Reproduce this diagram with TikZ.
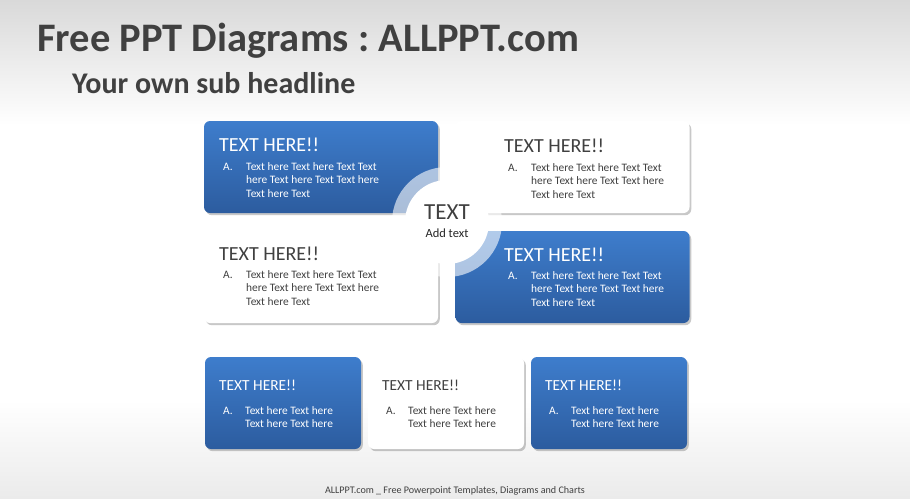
\documentclass[tikz,border=0pt]{standalone}
\usepackage{fontspec}
\setmainfont{Carlito}
\usetikzlibrary{shadows}
\definecolor{btop}{HTML}{3E7DCC}
\definecolor{bbot}{HTML}{2C5C9F}
\definecolor{dark}{HTML}{404040}
\definecolor{bgtop}{HTML}{D9D9D9}
\definecolor{bgbot}{HTML}{EBEBEB}
\frenchspacing
\tikzset{
  boxshadow/.style={drop shadow={shadow xshift=1.8pt, shadow yshift=-2.2pt, opacity=0.3, fill=black!70}},
  bluebox/.style={rectangle, rounded corners=6pt, top color=btop, bottom color=bbot, draw=none, boxshadow},
  whitebox/.style={rectangle, rounded corners=6pt, fill=white, draw=none, boxshadow},
  bigsz/.style={minimum width=234pt, minimum height=92pt, inner sep=0pt},
  smallsz/.style={minimum width=156pt, minimum height=92pt, inner sep=0pt},
  bigtitle/.style={anchor=base west, inner sep=0pt, font=\fontsize{20}{22}\selectfont},
  smalltitle/.style={anchor=base west, inner sep=0pt, font=\fontsize{15.4}{17}\selectfont},
  body/.style={anchor=base west, inner sep=0pt, font=\fontsize{11.4}{13.6}\selectfont},
}
\begin{document}
\begin{tikzpicture}[x=1pt,y=-1pt]
\useasboundingbox (0,0) rectangle (910,498);
% background
\fill[white] (0,0) rectangle (910,498);
\shade[top color=bgtop, bottom color=white] (0,0) rectangle (910,125);
\shade[top color=white, bottom color=bgbot] (0,400) rectangle (910,498);

% headings
\node[anchor=base west, inner sep=0pt, text=dark, font=\fontsize{40.5}{44}\selectfont\bfseries] (title) at (37,51.5) {Free PPT Diagrams : ALLPPT.com};
\node[anchor=base west, inner sep=0pt, text=dark, font=\fontsize{30}{32}\selectfont\bfseries] (sub) at (72,93) {Your own sub headline};

% four big boxes
\node[bluebox, bigsz] (b1) at (321,167) {};
\node[whitebox, bigsz] (b2) at (572.5,167) {};
\node[whitebox, bigsz] (b3) at (321,277) {};
\node[bluebox, bigsz] (b4) at (572.5,277) {};

% center ring and circle
\fill[white, opacity=0.6] (447,222) circle (55);
\fill[white] (447,222) circle (42);
\node[anchor=base, inner sep=0pt, text=dark, font=\fontsize{23}{25}\selectfont] (ct) at (447,219.5) {TEXT};
\node[anchor=base, inner sep=0pt, text=black!85, font=\fontsize{12.5}{14}\selectfont] (ca) at (447,237) {Add text};

% box 1 text
\node[bigtitle, text=white] (t1) at (219,151) {TEXT HERE!!};
\node[body, text=white] (a1) at (223,170) {A.};
\node[body, text=white] (l1) at (246,170) {\begin{tabular}[t]{@{}l@{}}Text here Text here Text Text\\ here Text here Text Text here\\ Text here Text\end{tabular}};
% box 2 text
\node[bigtitle, text=dark] (t2) at (504,152) {TEXT HERE!!};
\node[body, text=dark] (a2) at (508,171) {A.};
\node[body, text=dark] (l2) at (531,171) {\begin{tabular}[t]{@{}l@{}}Text here Text here Text Text\\ here Text here Text Text here\\ Text here Text\end{tabular}};
% box 3 text
\node[bigtitle, text=dark] (t3) at (219,260) {TEXT HERE!!};
\node[body, text=dark] (a3) at (223,278) {A.};
\node[body, text=dark] (l3) at (246,278) {\begin{tabular}[t]{@{}l@{}}Text here Text here Text Text\\ here Text here Text Text here\\ Text here Text\end{tabular}};
% box 4 text
\node[bigtitle, text=white] (t4) at (504,261) {TEXT HERE!!};
\node[body, text=white] (a4) at (508,279) {A.};
\node[body, text=white] (l4) at (531,279) {\begin{tabular}[t]{@{}l@{}}Text here Text here Text Text\\ here Text here Text Text here\\ Text here Text\end{tabular}};

% bottom boxes
\node[bluebox, smallsz] (s1) at (283,403) {};
\node[whitebox, smallsz] (s2) at (446,403) {};
\node[bluebox, smallsz] (s3) at (609,403) {};

\node[smalltitle, text=white] (st1) at (219,390) {TEXT HERE!!};
\node[body, text=white] (sa1) at (223,414) {A.};
\node[body, text=white] (sl1) at (245,414) {\begin{tabular}[t]{@{}l@{}}Text here Text here\\ Text here Text here\end{tabular}};

\node[smalltitle, text=dark] (st2) at (382,390) {TEXT HERE!!};
\node[body, text=dark] (sa2) at (386,414) {A.};
\node[body, text=dark] (sl2) at (408,414) {\begin{tabular}[t]{@{}l@{}}Text here Text here\\ Text here Text here\end{tabular}};

\node[smalltitle, text=white] (st3) at (545,390) {TEXT HERE!!};
\node[body, text=white] (sa3) at (549,414) {A.};
\node[body, text=white] (sl3) at (571,414) {\begin{tabular}[t]{@{}l@{}}Text here Text here\\ Text here Text here\end{tabular}};

% footer
\node[anchor=base, inner sep=0pt, text=dark, font=\fontsize{10.1}{12}\selectfont] (foot) at (455,493) {ALLPPT.com \_ Free Powerpoint Templates, Diagrams and Charts};
\end{tikzpicture}
\end{document}
